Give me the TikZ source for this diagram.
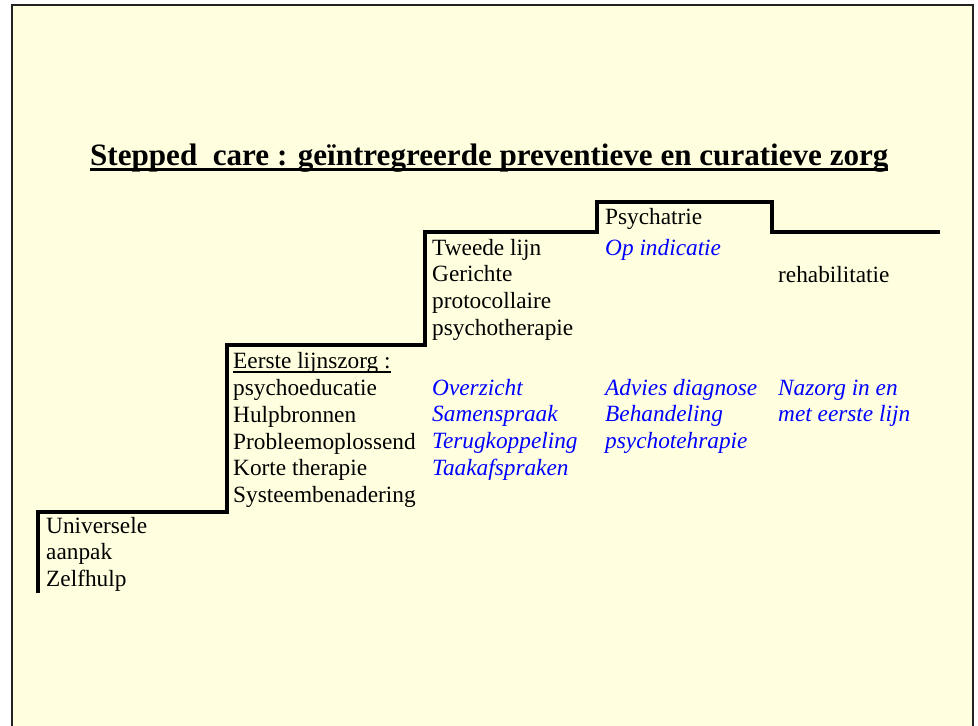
\documentclass[tikz,border=0pt]{standalone}
\usepackage{fontspec}
\setmainfont{Liberation Serif}
\definecolor{bgyellow}{HTML}{FFFFE0}
\definecolor{txtblue}{HTML}{0000FF}
\definecolor{framegray}{HTML}{222222}
\newsavebox\myulbox
\newcommand\myul[3]{\sbox\myulbox{#3}\rlap{\rule[#1]{\wd\myulbox}{#2}}\usebox\myulbox}
\newcommand\stacktext[1]{\begin{tabular}[t]{@{}l@{}}#1\end{tabular}}
\tikzset{
  body/.style={inner sep=0pt, anchor=base west, font=\fontsize{23.3}{26.9}\selectfont},
  bluetxt/.style={inner sep=0pt, anchor=base west, text=txtblue, font=\fontsize{23.3}{26.9}\selectfont\itshape},
  titletxt/.style={inner sep=0pt, anchor=base west, font=\fontsize{31.1}{36}\selectfont\bfseries},
  stairline/.style={line width=4.3pt, line join=miter},
  framestyle/.style={line width=2pt, draw=framegray}
}
\begin{document}
\begin{tikzpicture}[x=1pt,y=-1pt]
\useasboundingbox (0,0) rectangle (978,726);
\fill[white] (0,0) rectangle (978,726);
\fill[bgyellow] (12,5) rectangle (973,726);
\draw[framestyle] (12,726) -- (12,5) -- (973,5) -- (973,726);

% title
\node[titletxt] (title) at (90,165) {\myul{-5.8pt}{2.6pt}{Stepped~~care : geïntregreerde preventieve en curatieve zorg}};

% staircase
\draw[stairline] (38,593) -- (38,512) -- (227,512) -- (227,345) -- (425,345) -- (425,232)
  -- (597,232) -- (597,202) -- (772,202) -- (772,232) -- (940,232);

% texts
\node[body] (psych) at (605,224) {Psychatrie};
\node[body] (tweede) at (432,255) {\stacktext{Tweede lijn\\Gerichte\\protocollaire\\psychotherapie}};
\node[bluetxt] (opind) at (605,255) {Op indicatie};
\node[body] (rehab) at (778,282) {rehabilitatie};
\node[body] (eerste) at (233,368.3) {\stacktext{\myul{-4.2pt}{1.5pt}{Eerste lijnszorg :}\\psychoeducatie\\Hulpbronnen\\Probleemoplossend\\Korte therapie\\Systeembenadering}};
\node[bluetxt] (overz) at (432,395) {\stacktext{Overzicht\\Samenspraak\\Terugkoppeling\\Taakafspraken}};
\node[bluetxt] (advies) at (605,395) {\stacktext{Advies diagnose\\Behandeling\\psychotehrapie}};
\node[bluetxt] (nazorg) at (778,395) {\stacktext{Nazorg in en\\met eerste lijn}};
\node[body] (univ) at (46,533) {\stacktext{Universele\\aanpak\\Zelfhulp}};
\end{tikzpicture}
\end{document}
